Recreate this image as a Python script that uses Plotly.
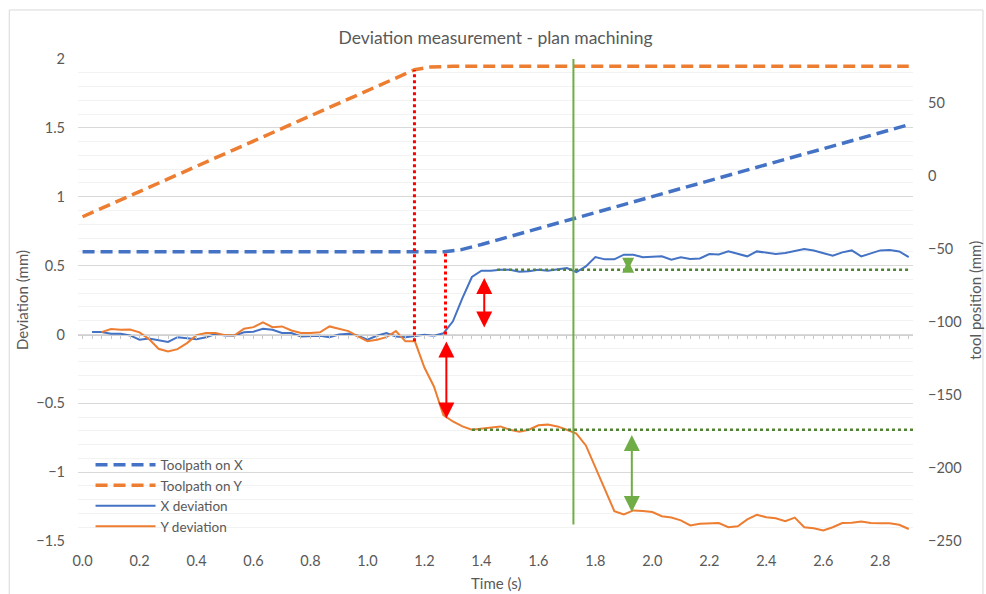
import plotly.graph_objects as go

# ---------------- data ----------------
dt = 1.0 / 30.0
x_dev = [0.017, 0.017, 0.005, 0.005, -0.007, -0.038, -0.03, -0.04, -0.055, -0.02,
         -0.025, -0.035, -0.02, 0.003, -0.007, -0.007, 0.015, 0.02, 0.041, 0.034,
         0.01, 0.01, -0.015, -0.015, -0.01, -0.02, 0.0, 0.005, -0.01, -0.038,
         -0.01, 0.01, -0.015, -0.02, -0.01, -0.003, -0.01, 0.008, 0.095, 0.264,
         0.417, 0.463, 0.463, 0.47, 0.47, 0.455, 0.458, 0.47, 0.463, 0.475,
         0.482, 0.453, 0.494, 0.562, 0.545, 0.545, 0.579, 0.579, 0.56, 0.564,
         0.567, 0.542, 0.56, 0.547, 0.552, 0.584, 0.581, 0.603, 0.584, 0.567,
         0.603, 0.591, 0.584, 0.591, 0.603, 0.62, 0.61, 0.591, 0.571, 0.596,
         0.61, 0.567, 0.591, 0.61, 0.613, 0.603, 0.562]
x_dev_t = [(k + 1) * dt for k in range(len(x_dev))]

y_dev = [0.017, 0.039, 0.034, 0.036, 0.015, -0.034, -0.104, -0.123, -0.107, -0.063,
         -0.005, 0.01, 0.01, -0.005, -0.007, 0.041, 0.053, 0.087, 0.053, 0.058,
         0.029, 0.01, 0.01, 0.015, 0.058, 0.04, 0.024, -0.015, -0.05, -0.038,
         -0.02, 0.024, -0.05, -0.05, -0.24, -0.378, -0.585, -0.632, -0.668, -0.692,
         -0.685, -0.68, -0.668, -0.692, -0.706, -0.692, -0.66, -0.655, -0.668, -0.692,
         -0.72, -0.806, -0.963, -1.133, -1.283, -1.307, -1.278, -1.283, -1.29, -1.32,
         -1.33, -1.35, -1.387, -1.375, -1.375, -1.37, -1.4, -1.393, -1.343, -1.31,
         -1.327, -1.335, -1.356, -1.33, -1.4, -1.408, -1.423, -1.4, -1.37, -1.368,
         -1.358, -1.37, -1.372, -1.372, -1.382, -1.413]
y_dev_t = [(k + 2) * dt for k in range(len(y_dev))]

tool_x_t = [0.0, 1.27, 1.33, 1.40, 2.9]
tool_x = [-52, -52, -50.5, -47, 35]
tool_y_t = [0.0, 1.165, 1.22, 1.30, 2.9]
tool_y = [-28, 72.6, 74.5, 75, 75]

x_ticks = [0.0, 0.2, 0.4, 0.6, 0.8, 1.0, 1.2, 1.4, 1.6, 1.8, 2.0, 2.2, 2.4, 2.6, 2.8]
x_tick_labels = ["%.1f" % v for v in x_ticks]

BLUE = "#4472C4"
ORANGE = "#ED7D31"
GREEN = "#70AD47"
DGREEN = "#548235"
RED = "#FF0000"
TXT = "#595959"
FONT = "Lato"

fig = go.Figure()

fig.add_trace(go.Scatter(x=tool_x_t, y=tool_x, yaxis="y2", mode="lines",
                         name="Toolpath on X",
                         line=dict(color=BLUE, width=3.5, dash="12px,6px")))
fig.add_trace(go.Scatter(x=tool_y_t, y=tool_y, yaxis="y2", mode="lines",
                         name="Toolpath on Y",
                         line=dict(color=ORANGE, width=3.5, dash="12px,6px")))
fig.add_trace(go.Scatter(x=x_dev_t, y=x_dev, mode="lines", name="X deviation",
                         line=dict(color=BLUE, width=2)))
fig.add_trace(go.Scatter(x=y_dev_t, y=y_dev, mode="lines", name="Y deviation",
                         line=dict(color=ORANGE, width=2)))
# invisible helper trace for the zero-line axis with ticks
fig.add_trace(go.Scatter(x=[0], y=[0], xaxis="x2", mode="markers",
                         marker=dict(opacity=0), showlegend=False, hoverinfo="skip"))

shapes = [
    dict(type="line", x0=1.165, x1=1.165, y0=-0.05, y1=1.92, xref="x", yref="y",
         line=dict(color=RED, width=3, dash="dot")),
    dict(type="line", x0=1.274, x1=1.274, y0=0.0, y1=0.6, xref="x", yref="y",
         line=dict(color=RED, width=3, dash="dot")),
    dict(type="line", x0=1.723, x1=1.723, y0=-1.38, y1=2.0, xref="x", yref="y",
         line=dict(color=GREEN, width=2)),
    dict(type="line", x0=1.455, x1=2.9, y0=0.47, y1=0.47, xref="x", yref="y",
         line=dict(color=DGREEN, width=2.5, dash="dot")),
    dict(type="line", x0=1.367, x1=2.915, y0=-0.692, y1=-0.692, xref="x", yref="y",
         line=dict(color=DGREEN, width=2.5, dash="dot")),
    dict(type="rect", xref="paper", yref="paper", x0=-0.0823, x1=1.0838,
         y0=-0.2, y1=1.1017, line=dict(color="#D9D9D9", width=1), layer="below"),
]

def arrow(x, y0, y1, color, size=1.6):
    return dict(x=x, y=y1, ax=x, ay=y0, xref="x", yref="y", axref="x", ayref="y",
                text="", showarrow=True, arrowhead=2, arrowside="end+start",
                arrowsize=size, arrowwidth=2, arrowcolor=color,
                standoff=0, startstandoff=0)

annotations = [
    arrow(1.277, -0.04, -0.61, RED),
    arrow(1.41, 0.42, 0.05, RED),
    arrow(1.928, -0.72, -1.29, GREEN),
    arrow(1.915, 0.545, 0.47, GREEN, 1.2),
    dict(text="Deviation (mm)", xref="paper", yref="paper", x=-0.067, y=0.5,
         xanchor="center", yanchor="middle",
         textangle=-90, showarrow=False, font=dict(size=15, color=TXT, family=FONT)),
    dict(text="tool position (mm)", xref="paper", yref="paper", x=1.074, y=0.5,
         xanchor="center", yanchor="middle",
         textangle=-90, showarrow=False, font=dict(size=15, color=TXT, family=FONT)),
    dict(text="Time (s)", xref="paper", yref="paper", x=0.5, y=-0.087,
         xanchor="center", yanchor="middle",
         showarrow=False, font=dict(size=15, color=TXT, family=FONT)),
]

fig.update_layout(
    width=986, height=594,
    margin=dict(l=78, r=73, t=59, b=53),
    paper_bgcolor="white", plot_bgcolor="white",
    font=dict(family=FONT, color=TXT, size=14),
    title=dict(text="Deviation measurement - plan machining", x=0.5, xref="paper",
               y=1 - 38 / 594, yanchor="middle",
               font=dict(size=17.5, color=TXT, family=FONT)),
    xaxis=dict(range=[-0.016, 2.915], tickmode="array", tickvals=x_ticks,
               ticktext=x_tick_labels, showgrid=False, zeroline=False,
               showline=False, ticks="", ticklabelstandoff=9,
               tickfont=dict(size=14.5, color=TXT)),
    xaxis2=dict(overlaying="x", anchor="free", position=(541 - 334.7) / 482,
                side="bottom", range=[-0.016, 2.915], showticklabels=False,
                showgrid=False, zeroline=False, showline=True, linecolor="#D0D0D0",
                linewidth=1, ticks="outside", tickmode="linear", tick0=0, dtick=dt,
                ticklen=3, tickcolor="#C8C8C8", tickwidth=1),
    yaxis=dict(range=[-1.5, 2], dtick=0.5, showgrid=True, gridcolor="#D9D9D9",
               gridwidth=1, zeroline=False, showline=False, ticks="",
               ticklabelstandoff=12, tickfont=dict(size=14.5, color=TXT),
               minor=dict(dtick=0.1, showgrid=True, gridcolor="#F2F2F2", gridwidth=1)),
    yaxis2=dict(range=[-250, 80], dtick=50, tick0=0, overlaying="y", side="right",
                showgrid=False, zeroline=False, showline=False, ticks="",
                ticklabelstandoff=14, tickfont=dict(size=14.5, color=TXT)),
    legend=dict(x=0.015, y=0.19, xanchor="left", yanchor="top",
                bgcolor="rgba(0,0,0,0)", font=dict(size=13.5, color=TXT),
                tracegroupgap=0, itemwidth=60),
    shapes=shapes,
    annotations=annotations,
    showlegend=True,
)

fig.write_html("out.html")
